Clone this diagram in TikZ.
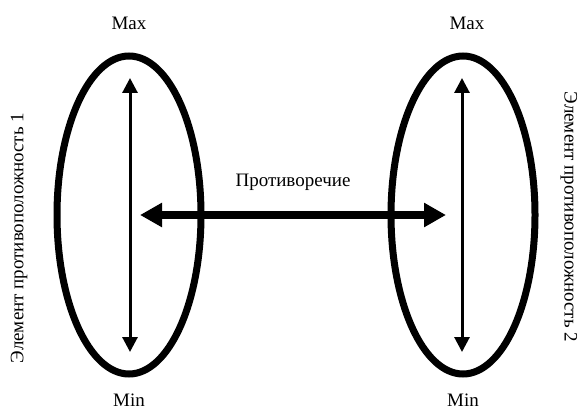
\documentclass[tikz,border=0pt]{standalone}
\usepackage{fontspec}
\setmainfont{Liberation Serif}
\usetikzlibrary{shapes.geometric,arrows.meta}

\tikzset{
  opp/.style={ellipse, draw, line width=7pt, minimum width=144pt, minimum height=318pt, inner sep=0pt},
  lbl/.style={font=\fontsize{19}{21}\selectfont, inner sep=0pt},
  scalearrow/.style={line width=3pt, {Triangle[length=15pt,width=15pt]}-{Triangle[length=15pt,width=15pt]}},
  conflict/.style={line width=8pt, {Triangle[length=22pt,width=23pt]}-{Triangle[length=22pt,width=23pt]}}
}

\begin{document}
\begin{tikzpicture}[x=1pt,y=-1pt]
\useasboundingbox (0,0) rectangle (580,409);

% Opposites
\node[opp] (opp1) at (129,215) {};
\node[opp] (opp2) at (463,215) {};

% Max / Min
\node[lbl] (max1) at (129,23) {Max};
\node[lbl] (max2) at (467,23) {Max};
\node[lbl] (min1) at (129,400) {Min};
\node[lbl] (min2) at (463,400) {Min};

% Scales inside the ellipses
\coordinate (top1) at (130,78);
\coordinate (bot1) at (130,352);
\coordinate (top2) at (462,78);
\coordinate (bot2) at (462,352);
\draw[scalearrow] (top1) -- (bot1);
\draw[scalearrow] (top2) -- (bot2);

% Contradiction
\coordinate (c1) at (140,215);
\coordinate (c2) at (446,215);
\draw[conflict] (c1) -- (c2);
\node[lbl] (contr) at (293,182) {Противоречие};

% Side labels
\node[lbl, rotate=90] (el1) at (19,238) {Элемент противоположность 1};
\node[lbl, rotate=-90] (el2) at (569,217) {Элемент противоположность 2};
\end{tikzpicture}
\end{document}
